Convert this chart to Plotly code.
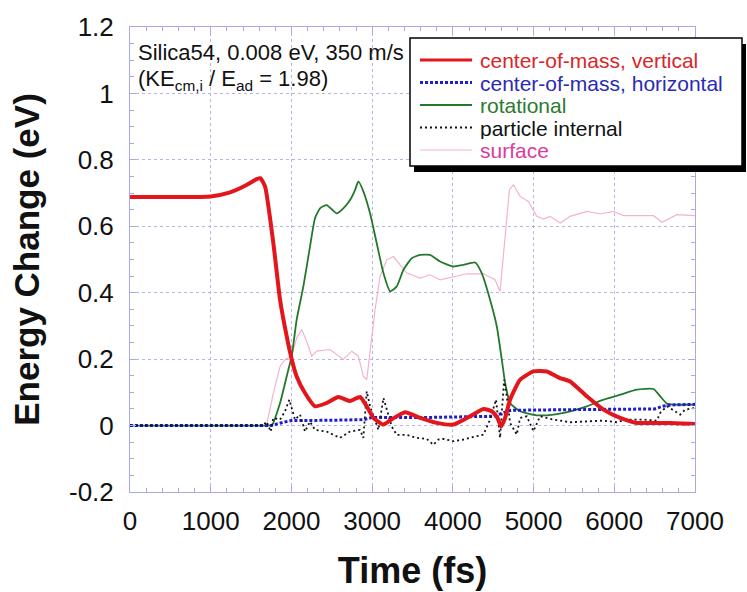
import plotly.graph_objects as go

# ---------------- data ----------------
t_vert = [0, 500, 1000, 1240, 1450, 1570, 1615, 1673, 1776, 1859, 1941, 2003, 2065, 2168, 2292,
          2437, 2581, 2726, 2850, 2933, 3016, 3140, 3243, 3408, 3594, 3800, 4007, 4213, 4379,
          4482, 4552, 4598, 4647, 4709, 4833, 4998, 5164, 5329, 5453, 5660, 5866, 6073, 6280,
          6486, 6693, 7000]
e_vert = [0.688, 0.688, 0.690, 0.702, 0.725, 0.742, 0.745, 0.720, 0.549, 0.379, 0.269, 0.200,
          0.148, 0.098, 0.058, 0.068, 0.086, 0.074, 0.086, 0.058, 0.023, 0.003, 0.019, 0.040,
          0.023, 0.008, 0.003, 0.028, 0.050, 0.043, 0.023, -0.002, 0.023, 0.078, 0.138, 0.163,
          0.163, 0.143, 0.133, 0.088, 0.048, 0.023, 0.008, 0.008, 0.008, 0.005]

t_horiz = [0, 1750, 1900, 2000, 2500, 2900, 2990, 3600, 4500, 4650, 4720, 5500, 6500, 6600,
           6700, 7000]
e_horiz = [0.0, 0.0, 0.010, 0.015, 0.016, 0.018, 0.024, 0.024, 0.028, 0.040, 0.046, 0.048,
           0.050, 0.058, 0.062, 0.064]

t_rot = [0, 1000, 1700, 1760, 1859, 1941, 2003, 2065, 2148, 2230, 2292, 2354, 2437, 2561, 2643,
         2726, 2788, 2829, 2891, 2974, 3057, 3140, 3222, 3305, 3388, 3491, 3594, 3718, 3842,
         4007, 4131, 4276, 4358, 4461, 4544, 4606, 4647, 4709, 4833, 5040, 5246, 5453, 5660,
         5866, 6073, 6280, 6486, 6569, 6652, 6734, 7000]
e_rot = [0.0, 0.0, 0.0, 0.002, 0.068, 0.148, 0.209, 0.319, 0.419, 0.539, 0.624, 0.654, 0.664,
         0.639, 0.654, 0.679, 0.709, 0.735, 0.705, 0.639, 0.549, 0.459, 0.404, 0.419, 0.469,
         0.504, 0.514, 0.514, 0.494, 0.479, 0.484, 0.491, 0.459, 0.379, 0.299, 0.199, 0.129,
         0.068, 0.043, 0.031, 0.033, 0.043, 0.058, 0.078, 0.093, 0.108, 0.110, 0.088, 0.066,
         0.063, 0.063]

t_int = [0, 1650, 1693, 1743, 1776, 1859, 1921, 1974, 2003, 2044, 2107, 2168, 2230, 2292, 2437,
         2602, 2726, 2850, 2891, 2933, 2974, 3036, 3078, 3140, 3181, 3243, 3305, 3429, 3553,
         3676, 3759, 3821, 3883, 4007, 4131, 4255, 4379, 4461, 4535, 4585, 4606, 4635, 4668,
         4709, 4792, 4833, 4916, 4998, 5081, 5246, 5453, 5660, 5866, 6032, 6155, 6361, 6527,
         6568, 6651, 6754, 6816, 6878, 7000]
e_int = [0.0, 0.0, 0.012, -0.018, 0.023, 0.018, 0.043, 0.078, 0.053, 0.018, 0.033, -0.018,
         0.012, -0.013, -0.018, -0.037, -0.018, -0.013, -0.037, 0.103, 0.058, 0.012, -0.013,
         0.083, 0.048, -0.003, -0.028, -0.028, -0.037, -0.040, -0.058, -0.042, -0.040, -0.047,
         -0.042, -0.034, -0.027, 0.018, 0.078, -0.037, 0.028, 0.138, 0.088, 0.008, -0.027,
         0.023, 0.028, -0.017, 0.028, 0.018, 0.010, 0.012, 0.015, 0.010, 0.018, 0.018, 0.015,
         0.038, 0.058, 0.043, 0.033, 0.048, 0.053]

t_surf = [0, 1690, 1776, 1859, 1921, 2003, 2065, 2127, 2189, 2251, 2313, 2478, 2643, 2747, 2829,
          2891, 2933, 2974, 3036, 3098, 3181, 3264, 3326, 3429, 3594, 3718, 3842, 4007, 4172,
          4379, 4523, 4585, 4647, 4701, 4750, 4833, 4936, 5040, 5122, 5205, 5329, 5453, 5660,
          5825, 5990, 6114, 6486, 6590, 6776, 7000]
e_surf = [0.0, 0.0, 0.098, 0.178, 0.199, 0.209, 0.264, 0.289, 0.254, 0.209, 0.224, 0.229, 0.199,
          0.224, 0.209, 0.148, 0.138, 0.219, 0.349, 0.449, 0.499, 0.509, 0.489, 0.459, 0.444,
          0.454, 0.439, 0.449, 0.457, 0.457, 0.439, 0.404, 0.569, 0.710, 0.725, 0.690, 0.675,
          0.630, 0.622, 0.630, 0.610, 0.630, 0.645, 0.637, 0.645, 0.632, 0.632, 0.612, 0.635,
          0.632]

x_tickvals = [0, 1000, 2000, 3000, 4000, 5000, 6000, 7000]
x_ticktext = ["0", "1000", "2000", "3000", "4000", "5000", "6000", "7000"]
y_tickvals = [-0.2, 0, 0.2, 0.4, 0.6, 0.8, 1.0, 1.2]
y_ticktext = ["-0.2", "0", "0.2", "0.4", "0.6", "0.8", "1", "1.2"]

series_names = ["center-of-mass, vertical", "center-of-mass, horizontal", "rotational",
                "particle internal", "surface"]

# ---------------- styling ----------------
FONT = "Liberation Sans, Arial, Helvetica, sans-serif"
AX = "#a9a9e6"
GRID = "#b4b4ea"

styles = [
    dict(line=dict(color="#e3161b", width=4), shape="spline", text="#d8262a"),
    dict(line=dict(color="#1c1cd0", width=3, dash="3px,2px"), shape="linear", text="#2a2ab4"),
    dict(line=dict(color="#24782c", width=1.8), shape="spline", text="#2c7a30"),
    dict(line=dict(color="#111111", width=1.8, dash="2px,3px"), shape="linear", text="#111111"),
    dict(line=dict(color="#f3b3cf", width=1.2), shape="linear", text="#dc3a9c"),
]
data = [(t_vert, e_vert), (t_horiz, e_horiz), (t_rot, e_rot), (t_int, e_int), (t_surf, e_surf)]
draw_order = [4, 2, 1, 3, 0]

fig = go.Figure()
for i in draw_order:
    t, e = data[i]
    st = styles[i]
    line = dict(st["line"])
    line["shape"] = st["shape"]
    if st["shape"] == "spline":
        line["smoothing"] = 0.5
    fig.add_trace(go.Scatter(x=t, y=e, mode="lines", name=series_names[i], line=line,
                             showlegend=False))

# ---------------- layout ----------------
L, R, T, B = 130, 52, 27, 100
W, H = 747, 592
PW, PH = W - L - R, H - T - B


def px(x):
    return (x - L) / PW


def py(y):
    return (H - B - y) / PH


shapes = [
    dict(type="rect", xref="paper", yref="paper", x0=px(414), x1=px(746), y0=py(172), y1=py(44),
         fillcolor="black", line=dict(width=0), layer="above"),
    dict(type="rect", xref="paper", yref="paper", x0=px(410), x1=px(742), y0=py(166), y1=py(38),
         fillcolor="white", line=dict(color="black", width=1.5), layer="above"),
]
annotations = []
row_y = [60, 82.5, 105, 127.5, 150]
for k in range(5):
    st = styles[k]
    ln = dict(st["line"])
    ln["width"] = min(ln["width"], 3)
    shapes.append(dict(type="line", xref="paper", yref="paper", x0=px(420), x1=px(472),
                       y0=py(row_y[k]), y1=py(row_y[k]), line=ln, layer="above"))
    annotations.append(dict(xref="paper", yref="paper", x=px(478), y=py(row_y[k]),
                            xanchor="left", yanchor="middle", showarrow=False,
                            height=22, valign="middle",
                            text=series_names[k],
                            font=dict(family=FONT, size=21, color=st["text"])))

annotations.append(dict(xref="paper", yref="paper", x=px(136), y=py(52), xanchor="left",
                        yanchor="middle", showarrow=False, height=24,
                        text="Silica54, 0.008 eV, 350 m/s",
                        font=dict(family=FONT, size=22, color="#111111")))
annotations.append(dict(xref="paper", yref="paper", x=px(136), y=py(80), xanchor="left",
                        yanchor="middle", showarrow=False, height=28,
                        text="(KE<sub>cm,i</sub> / E<sub>ad</sub> = 1.98)",
                        font=dict(family=FONT, size=22, color="#111111")))

axis_common = dict(
    showline=True, linecolor=AX, linewidth=1, mirror="allticks",
    ticks="inside", ticklen=6, tickcolor=AX, tickwidth=1,
    showgrid=True, gridcolor=GRID, griddash="dot", gridwidth=1,
    zeroline=False,
    tickfont=dict(family=FONT, size=26, color="#111111"),
)

fig.update_layout(
    width=W, height=H,
    margin=dict(l=L, r=R, t=T, b=B, autoexpand=False),
    paper_bgcolor="white", plot_bgcolor="white",
    showlegend=False,
    shapes=shapes, annotations=annotations,
    xaxis=dict(range=[0, 7000], tickvals=x_tickvals, ticktext=x_ticktext,
               minor=dict(dtick=200, ticks="inside", ticklen=4, tickcolor=AX, showgrid=False),
               title=dict(text="<b>Time (fs)</b>", standoff=22,
                          font=dict(family=FONT, size=36, color="#111111")),
               ticklabelstandoff=6,
               **axis_common),
    yaxis=dict(range=[-0.2, 1.2], tickvals=y_tickvals, ticktext=y_ticktext,
               minor=dict(dtick=0.05, ticks="inside", ticklen=4, tickcolor=AX, showgrid=False),
               title=dict(text="<b>Energy Change (eV)</b>", standoff=18,
                          font=dict(family=FONT, size=35, color="#111111")),
               ticklabelstandoff=10,
               **axis_common),
)

fig.write_html("out.html")
